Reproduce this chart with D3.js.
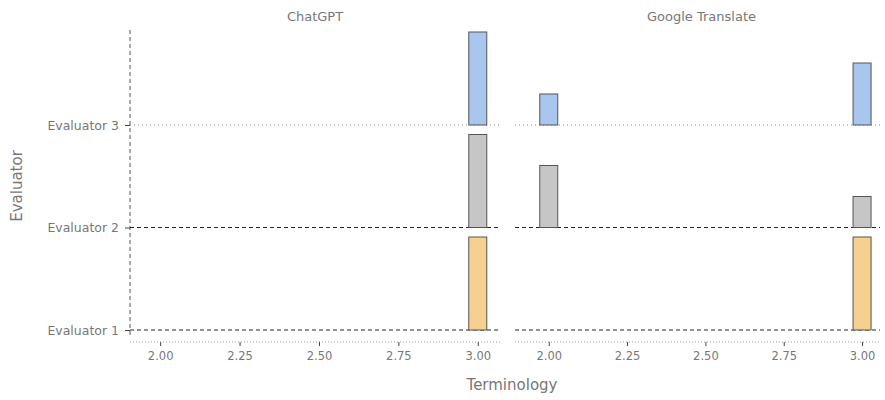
<!DOCTYPE html>
<html>
<head>
<meta charset="utf-8">
<script src="https://cdn.jsdelivr.net/npm/d3@7"></script>
<style>
  body { margin: 0; background: #fff; }
  text { font-family: "DejaVu Sans", sans-serif; fill: #777; }
</style>
</head>
<body>
<div class="myChart"></div>
<script>
// data
const systems = ["ChatGPT", "Google Translate"];
const evaluators = ["Evaluator 1", "Evaluator 2", "Evaluator 3"];
const scores = [2.00, 3.00];
const xTicks = [2.00, 2.25, 2.50, 2.75, 3.00];
// counts per evaluator (Evaluator 1, 2, 3) for each score
const chatgptScore2 = [0, 0, 0];
const chatgptScore3 = [3, 3, 3];
const googleScore2 = [0, 2, 1];
const googleScore3 = [3, 1, 2];
const evaluatorColors = ["#f5d08f", "#c6c6c6", "#a9c6ef"];

const counts = {
    "ChatGPT": [chatgptScore2, chatgptScore3],
    "Google Translate": [googleScore2, googleScore3]
};

// render chart
var width = 885
var height = 400

var svg = d3
    .select('.myChart')
    .append('svg')
    .attr('width', width)
    .attr('height', height)

var panelX = [[130, 500], [519, 884]]
var panelEdge = [[130, 500], [515, 880]]
var rowBase = d3.scalePoint().domain(evaluators).range([330, 125])
var rowH = 93
var barW = 18

var yCount = d3.scaleLinear().domain([0, 3]).range([0, rowH])

// left y axis
var yAxis = d3.axisLeft(rowBase).tickSize(5).tickPadding(6)
var yg = svg.append('g').attr('transform', 'translate(130,0)').call(yAxis)
yg.select('.domain').remove()
yg.selectAll('.tick line').attr('stroke', '#444')
yg.selectAll('.tick text').style('font-size', '12.5px')
svg.append('line')
    .attr('x1', 130).attr('x2', 130)
    .attr('y1', 30).attr('y2', 338)
    .attr('stroke', '#555')
    .attr('stroke-dasharray', '4,3')

svg.append('text')
    .attr('transform', `translate(22, 186) rotate(-90)`)
    .attr('text-anchor', 'middle')
    .style('font-size', '15px')
    .text('Evaluator')

systems.forEach((sys, si) => {
    var x = d3.scaleLinear()
        .domain([1.905, 3.07])
        .range(panelX[si])

    // facet title
    svg.append('text')
        .attr('x', (panelX[si][0] + panelX[si][1]) / 2)
        .attr('y', 21)
        .attr('text-anchor', 'middle')
        .style('font-size', '13px')
        .text(sys)

    // baselines per evaluator
    evaluators.forEach((ev, ei) => {
        svg.append('line')
            .attr('x1', panelEdge[si][0]).attr('x2', panelEdge[si][1])
            .attr('y1', rowBase(ev)).attr('y2', rowBase(ev))
            .attr('stroke', ei === 2 ? '#888' : '#222')
            .attr('stroke-dasharray', ei === 2 ? '1,3' : '4,3')
    })

    // bars
    scores.forEach((sc, k) => {
        evaluators.forEach((ev, ei) => {
            var c = counts[sys][k][ei]
            if (!c) return
            svg.append('rect')
                .attr('x', x(sc) - barW / 2)
                .attr('y', rowBase(ev) - yCount(c))
                .attr('width', barW)
                .attr('height', yCount(c))
                .attr('fill', evaluatorColors[ei])
                .attr('stroke', '#555')
                .attr('stroke-width', 1)
        })
    })

    // x axis
    var xAxis = d3.axisBottom(x)
        .tickValues(xTicks)
        .tickFormat(d3.format('.2f'))
        .tickSize(4)
        .tickPadding(6)
    var xg = svg.append('g')
        .attr('transform', `translate(0, 342)`)
        .call(xAxis)
    xg.select('.domain')
        .attr('d', `M${panelEdge[si][0]},0H${panelEdge[si][1]}`)
        .attr('stroke', '#999').attr('stroke-dasharray', '1,2')
    xg.selectAll('.tick line').attr('stroke', '#444')
    xg.selectAll('.tick text').style('font-size', '11.5px')
})

svg.append('text')
    .attr('x', 512)
    .attr('y', 390)
    .attr('text-anchor', 'middle')
    .style('font-size', '15px')
    .text('Terminology')
</script>
</body>
</html>
